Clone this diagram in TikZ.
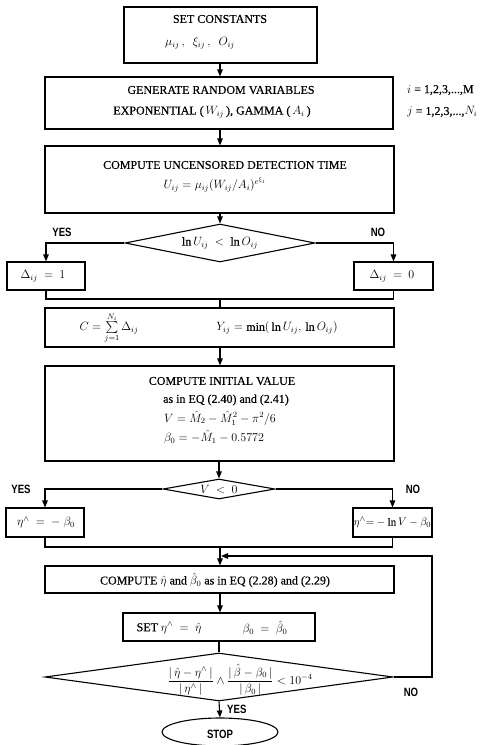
\documentclass[tikz,border=0pt]{standalone}
\usepackage{amsmath}
\usepackage{fontspec}
\setmainfont[FakeBold=0.4]{Liberation Serif}
\newfontfamily\labfont[FakeStretch=0.8]{Liberation Sans}
\usetikzlibrary{shapes.geometric,arrows.meta}
\begin{document}
\begin{tikzpicture}[x=1pt,y=-1pt,
  box/.style={draw,line width=1.1pt,rectangle,inner sep=0pt},
  dia/.style={draw,line width=1.1pt,diamond,inner sep=0pt},
  txt/.style={inner sep=0pt,font=\fontsize{12}{14}\selectfont},
  stxt/.style={inner sep=0pt,font=\fontsize{11}{13}\selectfont},
  ln/.style={line width=1.1pt},
  arr/.style={line width=1.1pt,-{Triangle[length=7pt,width=5.5pt]}},
  lab/.style={inner sep=0pt,font=\labfont\bfseries\fontsize{12}{14}\selectfont}]
\useasboundingbox (0,0) rectangle (482,745);
\coordinate (cx) at (220,0);

% boxes
\node[box,minimum width=193pt,minimum height=56pt] (set) at (220.5,35) {};
\node[txt] (setT) at (220,19) {SET CONSTANTS};
\node[txt] (setM) at (200,43) {$\mu_{ij}\,,\ \ \xi_{ij}\,,\ \ O_{ij}$};

\node[box,minimum width=348pt,minimum height=52pt] (gen) at (219,103) {};
\node[txt] (genT) at (221,90) {GENERATE RANDOM VARIABLES};
\node[txt] (genM) at (212,112) {EXPONENTIAL ($\,W_{ij}\,$), GAMMA ($\,A_i\,$)};
\node[txt,anchor=west] (iR) at (407,90) {$i$ = 1,2,3,...,M};
\node[txt,anchor=west] (jR) at (407,112) {$j$ = 1,2,3,...,$N_i$};

\node[box,minimum width=349pt,minimum height=67pt] (unc) at (219.5,179.5) {};
\node[txt] (uncT) at (225,165) {COMPUTE UNCENSORED DETECTION TIME};
\node[txt] (uncM) at (215,185) {$U_{ij}=\mu_{ij}(W_{ij}/A_i)^{e^{\xi_i}}$};

\node[dia,minimum width=190pt,minimum height=38pt] (d1) at (220,243) {};
\node[txt] (d1T) at (220,243) {$\ln U_{ij}\ <\ \ln O_{ij}$};

\node[box,minimum width=78pt,minimum height=28pt] (b1) at (46,276) {};
\node[txt] (b1T) at (43,276) {$\Delta_{ij}\ =\ 1$};
\node[box,minimum width=79pt,minimum height=28pt] (b0) at (393.5,276) {};
\node[txt] (b0T) at (392,276) {$\Delta_{ij}\ =\ 0$};

\node[box,minimum width=349pt,minimum height=39pt] (cb) at (219.5,327.5) {};
\node[txt] (cbL) at (109,328) {$C=\sum\limits_{j=1}^{N_i}\Delta_{ij}$};
\node[txt] (cbR) at (277,328) {$Y_{ij}=\min(\,\ln U_{ij},\,\ln O_{ij})$};

\node[box,minimum width=349pt,minimum height=95pt] (ini) at (219.5,413.5) {};
\node[txt] (iniT) at (222,381) {COMPUTE INITIAL VALUE};
\node[txt] (iniA) at (226,400) {as in EQ (2.40) and (2.41)};
\node[txt] (iniV) at (220,418) {$V=\hat{M}_2-\hat{M}_1^2-\pi^2/6$};
\node[txt] (iniB) at (214,437) {$\beta_0=-\hat{M}_1-0.5772$};

\node[dia,minimum width=112pt,minimum height=20pt] (d2) at (219,489) {};
\node[txt] (d2T) at (219,489.5) {$V\ <\ 0$};

\node[box,minimum width=78pt,minimum height=29pt] (e1) at (45,522.5) {};
\node[txt] (e1T) at (46,522.5) {$\eta^{\wedge}\ =\ -\ \beta_0$};
\node[box,minimum width=79pt,minimum height=29pt] (e2) at (392.5,522.5) {};
\node[stxt] (e2T) at (392.5,522.5) {$\eta^{\wedge}{=}-\ln V-\beta_0$};

\node[box,minimum width=349pt,minimum height=27pt] (cp) at (219.5,579.5) {};
\node[txt] (cpT) at (215,580) {COMPUTE $\hat{\eta}$ and $\hat{\beta}_0$ as in EQ (2.28) and (2.29)};

\node[box,minimum width=192pt,minimum height=28pt] (sb) at (219,627) {};
\node[txt] (sbL) at (169,628) {SET $\eta^{\wedge}\ =\ \hat{\eta}$};
\node[txt] (sbR) at (265,628) {$\beta_0\ =\ \hat{\beta}_0$};

\node[dia,minimum width=348pt,minimum height=48pt] (d3) at (219,677) {};
\node[txt] (d3T) at (240,680) {$\dfrac{|\,\hat{\eta}-\eta^{\wedge}\,|}{|\,\eta^{\wedge}\,|}\wedge\dfrac{|\,\hat{\beta}-\beta_0\,|}{|\,\beta_0\,|}<10^{-4}$};

\node[draw,line width=1.1pt,ellipse,inner sep=0pt,minimum width=116pt,minimum height=28pt] (stop) at (220,732) {};
\node[lab] (stopT) at (220,734) {STOP};

% labels
\node[lab] (y1) at (62,232) {YES};
\node[lab] (n1) at (378,232) {NO};
\node[lab] (y2) at (21,489) {YES};
\node[lab] (n2) at (413,489) {NO};
\node[lab,anchor=west] (y3) at (227,709) {YES};
\node[lab] (n3) at (411,692) {NO};

% connectors
\draw[arr] (set.south -| cx) -- (cx |- gen.north);
\draw[arr] (gen.south -| cx) -- (cx |- unc.north);
\draw[arr] (unc.south -| cx) -- (d1.north);
\draw[arr] (d1.west) -| (b1.north);
\draw[arr] (d1.east) -| (b0.north);
\coordinate (j1) at (220,299);
\draw[ln] (b1.south) |- (j1) -| (b0.south);
\draw[ln] (j1) -- (j1 |- cb.north);
\draw[arr] (cb.south -| cx) -- (cx |- ini.north);
\draw[arr] (ini.south -| d2.north) -- (d2.north);
\draw[arr] (d2.west) -| (e1.north);
\draw[arr] (d2.east) -| (e2.north);
\coordinate (j2) at (220,547);
\draw[ln] (e1.south) |- (j2) -| (e2.south);
\draw[arr] (j2) -- (j2 |- cp.north);
\draw[arr] (cp.south -| cx) -- (cx |- sb.north);
\draw[ln] (sb.south -| d3.north) -- (d3.north);
\coordinate (fb) at (432,556);
\coordinate (fbm) at (221,556);
\draw[arr] (d3.east) -- (d3.east -| fb) -- (fb) -- (fbm);
\draw[arr] (d3.south) -- (stop.north);
\end{tikzpicture}
\end{document}
